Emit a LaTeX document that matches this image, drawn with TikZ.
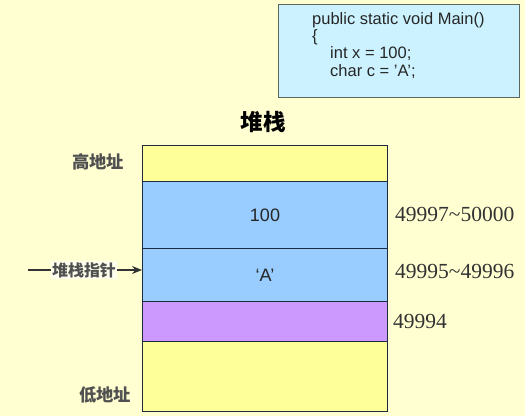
\documentclass[tikz,border=0pt]{standalone}
\usepackage{fontspec}
\setmainfont{Liberation Serif}
\setsansfont{Liberation Sans}
\newfontfamily\cjk{Noto Sans CJK SC}
\usetikzlibrary{arrows.meta}
\definecolor{bg}{HTML}{FFFFD2}
\definecolor{cellyellow}{HTML}{FFFF99}
\definecolor{cellblue}{HTML}{99CCFF}
\definecolor{cellpurple}{HTML}{CC99FF}
\definecolor{codefill}{HTML}{CCF2FF}
\definecolor{codeborder}{HTML}{5C665C}
\definecolor{cellborder}{HTML}{1E2A40}
\definecolor{labelgray}{HTML}{505050}
\tikzset{
  cell/.style={draw=cellborder, line width=1pt, minimum width=245pt, inner sep=0pt, anchor=north west, font=\sffamily\fontsize{18}{20}\selectfont, text=black!85},
  addr/.style={anchor=west, inner sep=0pt, font=\rmfamily\fontsize{21.5}{24}\selectfont, text=black!80},
  cjklabel/.style={inner sep=0pt, font=\cjk\bfseries\fontsize{17.3}{19}\selectfont, text=labelgray},
}
\begin{document}
\begin{tikzpicture}[x=1pt,y=-1pt]
\useasboundingbox (0,0) rectangle (525,416);
\fill[bg] (0,0) rectangle (525,416);
% code box
\node[draw=codeborder, fill=codefill, line width=1.3pt, minimum width=241pt, minimum height=93pt, anchor=north west, inner sep=0pt] (code) at (278,4) {};
\node[anchor=north west, inner sep=0pt, align=left, font=\sffamily\fontsize{16.5}{17.4}\selectfont, text=black!85] (codetext) at (312,12)
  {public static void Main()\\ \{\\ \hspace{18pt}int x = 100;\\ \hspace{18pt}char c = {\char"27}A{\char"27};};
% title
\node[inner sep=0pt, font=\cjk\bfseries\fontsize{22.5}{25}\selectfont] (title) at (263,122) {堆栈};
% stack cells
\node[cell, fill=cellyellow, minimum height=36pt] (c1) at (142,145) {};
\node[cell, fill=cellblue, minimum height=67pt] (c2) at (142,181) {100};
\node[cell, fill=cellblue, minimum height=53pt] (c3) at (142,248) {‘A’};
\node[cell, fill=cellpurple, minimum height=40pt] (c4) at (142,301) {};
\node[cell, fill=cellyellow, minimum height=70pt] (c5) at (142,341) {};
% labels
\node[cjklabel] (high) at (98,162) {高地址};
\node[cjklabel] (low) at (105,395) {低地址};
\node[addr] (a1) at (395,214) {49997\textasciitilde 50000};
\node[addr] (a2) at (395,271) {49995\textasciitilde 49996};
\node[addr] (a3) at (393,321) {49994};
% pointer
\coordinate (ps) at (28,270);
\node[cjklabel, font=\cjk\bfseries\fontsize{16}{18}\selectfont, fill=white!60!bg, inner sep=1pt] (ptr) at (84,270) {堆栈指针};
\draw[line width=1.2pt, black!80] (ps) -- (ptr.west);
\draw[line width=1.2pt, black!80, -{Stealth[length=10pt,width=8pt]}] (ptr.east) -- (ptr.east -| c3.west);
\end{tikzpicture}
\end{document}
